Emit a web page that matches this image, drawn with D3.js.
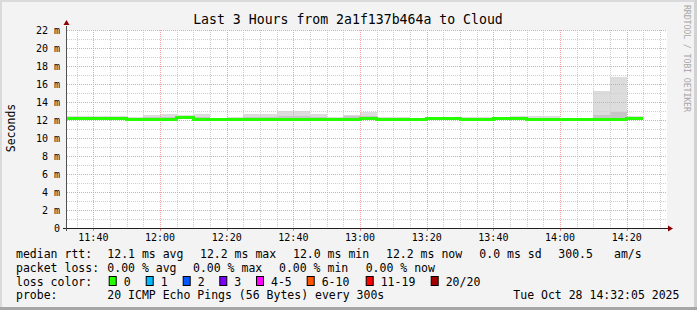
<!DOCTYPE html>
<html><head><meta charset="utf-8">
<script src="https://cdn.jsdelivr.net/npm/d3@7"></script>
<style>body{margin:0;background:#f3f3f3}svg{display:block}text{font-family:"DejaVu Sans Mono",monospace}</style>
</head><body><svg id="c" width="697" height="310"></svg>
<script>
const binStarts = ["11:30","11:35","11:40","11:45","11:50","11:55","12:00","12:05","12:10","12:15","12:20","12:25","12:30","12:35","12:40","12:45","12:50","12:55","13:00","13:05","13:10","13:15","13:20","13:25","13:30","13:35","13:40","13:45","13:50","13:55","14:00","14:05","14:10","14:15","14:20"];
const medianRtt = [12.12,12.12,12.12,12.12,12.02,12.1,12.1,12.28,12.1,12.02,12.02,12.02,12.02,12.02,12.02,12.1,12.02,12.1,12.2,12.1,12.1,12.1,12.2,12.12,12.05,12.05,12.12,12.15,12.05,12.05,12.05,12.05,12.05,12.1,12.15];
const smokeHi = [12.45,12.45,12.45,12.45,12.3,12.55,12.67,12.6,12.67,12.2,12.3,12.67,12.67,13.0,13.0,12.67,12.3,12.55,12.9,12.33,12.33,12.2,12.2,12.3,12.3,12.3,12.3,12.44,12.44,12.44,12.2,12.2,15.25,16.8,12.45];
const smokeMid = [12.3,12.3,12.3,12.3,12.18,12.35,12.35,12.4,12.35,12.15,12.2,12.35,12.35,12.45,12.45,12.35,12.18,12.4,12.45,12.25,12.25,12.15,12.2,12.22,12.2,12.2,12.22,12.28,12.25,12.25,12.15,12.15,12.6,12.85,12.3];
const smokeLo = [12.0,12.0,12.0,12.0,11.92,11.98,11.98,12.15,11.98,11.92,11.92,11.92,11.92,11.92,11.92,11.98,11.92,11.98,12.08,11.98,11.98,11.98,12.08,12.0,11.95,11.95,12.0,12.03,11.95,11.95,11.95,11.95,11.95,11.98,12.03];
const yTicks = [0,2,4,6,8,10,12,14,16,18,20,22];
const xTickLabels = ["11:40","12:00","12:20","12:40","13:00","13:20","13:40","14:00","14:20"];
const lossLabels = ["0","1","2","3","4-5","6-10","11-19","20/20"];
const lossColors = ["#26ff00","#00b8ff","#0059ff","#7e00ff","#ff00ff","#ff5500","#ff0000","#a10000"];
const timeStart = "11:32:05", timeEnd = "14:32:05";

const svg = d3.select("#c");
const W = 697, H = 310;
const L = 67, R = 667, T = 30, B = 228;
const pt = d3.timeParse("%H:%M:%S"), pm = d3.timeParse("%H:%M");
const x = d3.scaleTime().domain([pt(timeStart), pt(timeEnd)]).range([L, R]);
const y = d3.scaleLinear().domain([0, 22]).range([B, T]);

// frame
svg.append("rect").attr("width",W).attr("height",H).attr("fill","#f3f3f3");
svg.append("rect").attr("x",0).attr("y",0).attr("width",W).attr("height",2).attr("fill","#dadada");
svg.append("rect").attr("x",0).attr("y",0).attr("width",2).attr("height",H).attr("fill","#dadada");
svg.append("rect").attr("x",W-3).attr("y",0).attr("width",3).attr("height",H).attr("fill","#d2d2d2");
svg.append("rect").attr("x",0).attr("y",H-3).attr("width",W).attr("height",3).attr("fill","#a6a6a6");

svg.append("rect").attr("x",L).attr("y",T).attr("width",R-L).attr("height",B-T).attr("fill","#fff");

// smoke
const bins = binStarts.map((s,i)=>{const t0=pm(s); const t1=d3.timeMinute.offset(t0,5);
  return {x0:Math.max(x(t0),L), x1:Math.min(x(t1),R), med:medianRtt[i], hi:smokeHi[i], mid:smokeMid[i], lo:smokeLo[i]};});
const g = svg.append("g").attr("shape-rendering","crispEdges");
g.selectAll("rect.hi").data(bins).join("rect").attr("class","hi")
 .attr("x",d=>d.x0).attr("width",d=>d.x1-d.x0).attr("y",d=>y(d.hi)).attr("height",d=>y(d.lo)-y(d.hi)).attr("fill","#dcdcdc");
g.selectAll("rect.mid").data(bins).join("rect").attr("class","mid")
 .attr("x",d=>d.x0).attr("width",d=>d.x1-d.x0).attr("y",d=>y(d.mid)).attr("height",d=>y(d.lo)-y(d.mid)).attr("fill","#c6c6c6");

// grid
const grid = svg.append("g");
for (let v=1; v<22; v+=2) grid.append("line").attr("x1",L).attr("x2",R).attr("y1",Math.round(y(v))+0.5).attr("y2",Math.round(y(v))+0.5).attr("stroke","#cfcfcf").attr("stroke-dasharray","1,1");
const minorT = d3.timeMinute.every(5).range(pt(timeStart), pt(timeEnd));
minorT.forEach(t=>{ if (t.getMinutes()%20!==0) grid.append("line").attr("x1",Math.round(x(t))+0.5).attr("x2",Math.round(x(t))+0.5).attr("y1",T).attr("y2",B).attr("stroke","#cfcfcf").attr("stroke-dasharray","1,1");});
yTicks.filter(v=>v>0).forEach(v=>grid.append("line").attr("x1",L).attr("x2",R).attr("y1",Math.round(y(v))+0.5).attr("y2",Math.round(y(v))+0.5).attr("stroke","#f0a0a0").attr("stroke-dasharray","1,1"));
xTickLabels.forEach(s=>{const xx=Math.round(x(pm(s)))+0.5; grid.append("line").attr("x1",xx).attr("x2",xx).attr("y1",T).attr("y2",B).attr("stroke","#f0a0a0").attr("stroke-dasharray","1,1");
  svg.append("line").attr("x1",xx).attr("x2",xx).attr("y1",B).attr("y2",B+3).attr("stroke","#e08080");});

// median line
const pts=[]; bins.forEach(d=>{pts.push([d.x0,y(d.med)]);pts.push([d.x1,y(d.med)]);});
svg.append("path").attr("d",d3.line()(pts)).attr("fill","none").attr("stroke",lossColors[0]).attr("stroke-width",3).attr("shape-rendering","crispEdges");

// axes
svg.append("line").attr("x1",L-4).attr("x2",R+2).attr("y1",B+0.5).attr("y2",B+0.5).attr("stroke","#202020");
svg.append("line").attr("x1",L-0.5).attr("x2",L-0.5).attr("y1",B+3).attr("y2",T-4).attr("stroke","#505050");
svg.append("path").attr("d",`M${R+1},${B-2.5}L${R+6},${B+0.5}L${R+1},${B+3.5}Z`).attr("fill","#8b0000");
svg.append("path").attr("d",`M${L-3.5},${T-5}L${L-0.5},${T-10}L${L+2.5},${T-5}Z`).attr("fill","#8b0000");

// labels
svg.selectAll("text.yl").data(yTicks).join("text").attr("class","yl").attr("x",60).attr("y",v=>y(v)+3.5).attr("text-anchor","end")
 .attr("font-size",10).attr("fill","#000").text(v=>v===0?"0":v+" m");
svg.selectAll("text.xl").data(xTickLabels).join("text").attr("class","xl").attr("x",s=>x(pm(s))).attr("y",241).attr("text-anchor","middle")
 .attr("font-size",10).attr("fill","#000").text(s=>s);
svg.append("text").attr("x",348).attr("y",24).attr("text-anchor","middle").attr("font-size",13.2).text("Last 3 Hours from 2a1f137b464a to Cloud");
svg.append("text").attr("transform","translate(15,128) rotate(-90)").attr("text-anchor","middle").attr("font-size",11.5).text("Seconds");
svg.append("text").attr("transform","translate(684,5) rotate(90)").attr("text-anchor","start").attr("font-size",8.4).attr("fill","#a8a8a8").attr("textLength",107).text("RRDTOOL / TOBI OETIKER");

// legend
const fs = 11.5;
const leg = (tx,xx,yy)=>svg.append("text").attr("x",xx).attr("y",yy).attr("font-size",fs).attr("xml:space","preserve").text(tx);
leg("median rtt:",16,258); leg("12.1 ms avg",107.3,258); leg("12.2 ms max",200,258); leg("12.0 ms min",293,258);
leg("12.2 ms now",386,258); leg("0.0 ms sd",479.3,258); leg("300.5",558.3,258); leg("am/s",614,258);
leg("packet loss:",16,271.5); leg("0.00 % avg",107.3,271.5); leg("0.00 % max",193,271.5); leg("0.00 % min",279,271.5); leg("0.00 % now",365.7,271.5);
leg("loss color:",16,285.5);
const boxX=[108.7,145.7,182.7,219.3,256,306.7,365.7,430.7];
lossLabels.forEach((s,i)=>{svg.append("rect").attr("x",boxX[i]+0.5).attr("y",276.5).attr("width",7).attr("height",9).attr("fill",lossColors[i]).attr("stroke","#000");
  leg(s,boxX[i]+15,285.5);});
leg("probe:",16,298.5); leg("20 ICMP Echo Pings (56 Bytes) every 300s",107.3,298.5); leg("Tue Oct 28 14:32:05 2025",513.3,298.5);
</script></body></html>
